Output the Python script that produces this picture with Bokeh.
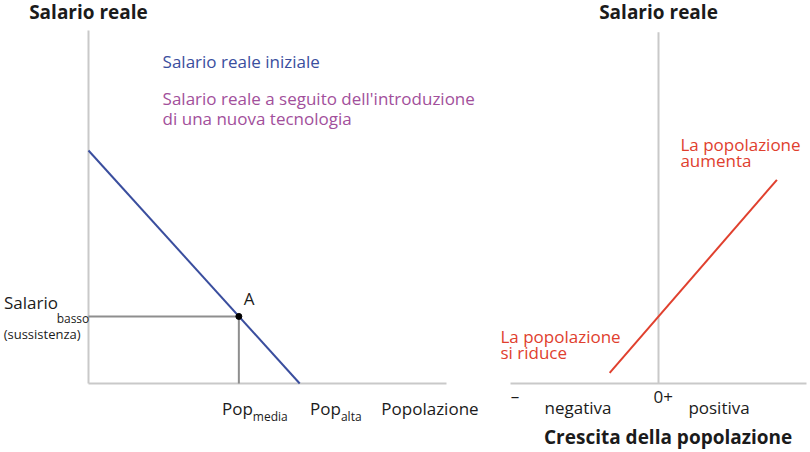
from bokeh.plotting import figure
from bokeh.models import Range1d
from bokeh.core.properties import value
from bokeh.embed import file_html
from bokeh.resources import INLINE

# ---- Left panel: population (x) vs real wage (y) ----
pop_axis = [0, 100]
wage_axis = [0, 100]
wage_line_pop = [0, 59]
wage_line_wage = [66, 0]
pop_media = 42
pop_alta = 68
wage_basso = 19

# ---- Right panel: population growth (x) vs real wage (y) ----
growth_axis = [-10, 10]
growth_wage_axis = [0, 99.5]
growth_line_x = [-3.3, 8.0]
growth_line_wage = [3.0, 57.7]

FONT = "Open Sans"
BLUE = "#3a4e9e"
PURPLE = "#a24f9b"
RED = "#e0402e"
AXIS = "#c9c9c9"
GUIDE = "#8e8e8e"
DARK = "#1b1b1b"

p = figure(width=810, height=452, output_backend="svg", toolbar_location=None,
           x_range=Range1d(-24.58, 201.68), y_range=Range1d(-19.55, 108.5),
           x_axis_type=None, y_axis_type=None, min_border=0,
           outline_line_color=None)
p.extra_x_ranges = {"g": Range1d(-44.46, 10.27)}
p.grid.visible = False


def txt(x, y, s, size=17, color=DARK, align="left", bold=False, xr="default", xo=0):
    p.text(x=[x], y=[y], text=[s], text_font=value(FONT), text_font_size=f"{size}px",
           text_color=color, text_align=align, text_baseline="middle",
           text_font_style="bold" if bold else "normal", x_range_name=xr, x_offset=xo)


# left axes
p.line(x=[pop_axis[0], pop_axis[0]], y=wage_axis, line_color=AXIS, line_width=2)
p.line(x=pop_axis, y=[0, 0], line_color=AXIS, line_width=2)
# guides to A
p.line(x=[0, pop_media], y=[wage_basso, wage_basso], line_color=GUIDE, line_width=2)
p.line(x=[pop_media, pop_media], y=[0, wage_basso], line_color=GUIDE, line_width=2)
# wage line
p.line(x=wage_line_pop, y=wage_line_wage, line_color=BLUE, line_width=2)
p.scatter(x=[pop_media], y=[wage_basso], size=6, color="black")

# right axes
p.line(x=[0, 0], y=growth_wage_axis, line_color=AXIS, line_width=2, x_range_name="g")
p.line(x=growth_axis, y=[0, 0], line_color=AXIS, line_width=2, x_range_name="g")
p.line(x=growth_line_x, y=growth_line_wage, line_color=RED, line_width=2, x_range_name="g")

# left texts
txt(0, 105.3, "Salario reale", 19, DARK, "center", True)
txt(20.7, 91.2, "Salario reale iniziale", 17, BLUE)
txt(20.7, 80.7, "Salario reale a seguito dell'introduzione", 17, PURPLE)
txt(20.7, 75.1, "di una nuova tecnologia", 17, PURPLE)
txt(pop_media, wage_basso + 5, "A", 17, DARK, xo=5)
txt(-23.6, 22.9, "Salario", 17, DARK)
txt(-8.9, 18.4, "basso", 12, DARK)
txt(-23.7, 13.9, "(sussistenza)", 13, DARK)
txt(pop_media, -7.08, "Pop", 17, DARK, "right", xo=14)
txt(pop_media, -9.35, "media", 12, DARK, "left", xo=14)
txt(pop_alta, -7.08, "Pop", 17, DARK, "right", xo=9)
txt(pop_alta, -9.35, "alta", 12, DARK, "left", xo=9)
txt(81.8, -7.08, "Popolazione", 17, DARK)

# right texts
txt(0, 105.3, "Salario reale", 19, DARK, "center", True, xr="g")
txt(1.48, 67.7, "La popolazione", 17, RED, xr="g")
txt(1.48, 63.2, "aumenta", 17, RED, xr="g")
txt(-10.68, 13.3, "La popolazione", 17, RED, xr="g")
txt(-10.68, 8.8, "si riduce", 17, RED, xr="g")
txt(-9.7, -3.4, "\u2013", 17, DARK, "center", xr="g")
txt(0, -3.7, "0+", 17, DARK, "left", xr="g", xo=-5)
txt(-5.44, -6.8, "negativa", 17, DARK, "center", xr="g")
txt(4.09, -6.8, "positiva", 17, DARK, "center", xr="g")
txt(0.65, -15.3, "Crescita della popolazione", 19, DARK, "center", True, xr="g")

open("out.html", "w").write(file_html(p, INLINE))
